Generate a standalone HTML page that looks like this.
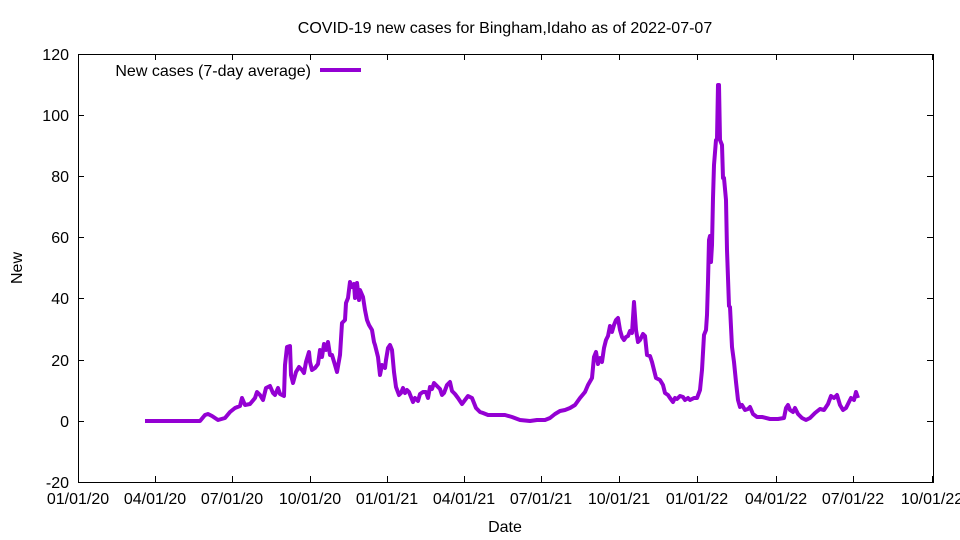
<!DOCTYPE html>
<html><head><meta charset="utf-8"><style>body{margin:0;background:#fff}svg{display:block;font-family:"Liberation Sans",sans-serif}</style></head><body>
<svg width="960" height="540" xmlns="http://www.w3.org/2000/svg">
<rect width="960" height="540" fill="#fff"/>
<text x="505" y="33" font-size="16" text-anchor="middle">COVID-19 new cases for Bingham,Idaho as of 2022-07-07</text>
<g stroke="#000" stroke-width="1" fill="none">
<rect x="78.5" y="54.5" width="855" height="428"/>
<path d="M78 54.5h6M933 54.5h-6M78 115.5h6M933 115.5h-6M78 176.5h6M933 176.5h-6M78 237.5h6M933 237.5h-6M78 298.5h6M933 298.5h-6M78 360.5h6M933 360.5h-6M78 421.5h6M933 421.5h-6M78 482.5h6M933 482.5h-6"/>
<path d="M78.5 482v-6M155.5 482v-6M232.5 482v-6M310.5 482v-6M387.5 482v-6M464.5 482v-6M541.5 482v-6M619.5 482v-6M697.5 482v-6M776.5 482v-6M853.5 482v-6M932.5 482v-6M78.5 54v6M155.5 54v6M232.5 54v6M310.5 54v6M387.5 54v6M464.5 54v6M541.5 54v6M619.5 54v6M697.5 54v6M776.5 54v6M853.5 54v6M932.5 54v6"/>
</g>
<g font-size="16" text-anchor="end">
<text x="69" y="60">120</text><text x="69" y="121">100</text><text x="69" y="182">80</text><text x="69" y="243">60</text><text x="69" y="304">40</text><text x="69" y="366">20</text><text x="69" y="427">0</text><text x="69" y="488">-20</text>
</g>
<g font-size="16" text-anchor="middle">
<text x="78" y="504">01/01/20</text><text x="155" y="504">04/01/20</text><text x="232" y="504">07/01/20</text><text x="310" y="504">10/01/20</text><text x="387" y="504">01/01/21</text><text x="464" y="504">04/01/21</text><text x="541" y="504">07/01/21</text><text x="619" y="504">10/01/21</text><text x="697" y="504">01/01/22</text><text x="776" y="504">04/01/22</text><text x="853" y="504">07/01/22</text><text x="932" y="504">10/01/22</text>
<text x="505" y="532">Date</text>
<text transform="translate(22,268) rotate(-90)">New</text>
</g>
<text x="311" y="76" font-size="16" text-anchor="end">New cases (7-day average)</text>
<path d="M320 70H361" stroke="#9400d3" stroke-width="4"/>
<polyline fill="none" stroke="#9400d3" stroke-width="4" stroke-linejoin="round" points="145,421 200,421 205,415 208,414 212,416 218,420 225,418 230,412 235,408 240,406 242,398 245,405 250,404 255,398 257,392 260,395 263,400 266,388 270,386 273,393 275,395 278,388 280,394 284,396 285,365 287,347 290,346 291,375 293,383 296,372 299,367 302,370 304,373 306,362 309,352 310,362 312,370 315,368 318,364 320,350 322,357 324,344 326,350 328,342 330,355 332,355 335,365 337,372 340,355 342,323 345,320 346,303 348,298 350,282 352,287 354,284 355,298 357,283 359,300 360,290 363,297 365,310 367,320 369,325 372,330 374,342 375,345 378,357 380,375 382,365 385,368 386,360 388,348 390,345 392,350 394,372 396,387 399,395 401,393 403,388 405,393 407,390 409,392 411,397 413,402 415,398 418,401 420,394 423,392 426,392 428,398 430,387 432,389 434,383 437,386 440,389 442,395 444,393 447,385 450,382 452,391 455,394 458,398 462,404 468,396 472,398 476,408 480,412 483,413 488,415 495,415 505,415 512,417 520,420 530,421 537,420 545,420 550,418 555,414 560,411 565,410 570,408 575,405 580,398 585,392 588,385 592,378 594,357 596,352 598,364 600,358 602,362 604,348 606,340 608,336 610,326 612,332 614,325 616,320 618,318 620,330 622,337 624,340 626,337 628,336 630,331 632,333 634,302 636,330 638,342 640,340 642,336 643,334 645,336 647,355 650,356 652,362 654,370 656,378 660,380 663,385 665,393 668,395 670,398 673,402 675,398 677,399 680,396 683,397 685,400 688,398 690,400 694,398 697,398 700,390 702,370 704,335 706,330 707,315 708,282 709,240 710,236 711,262 712,245 713,198 714,165 716,140 717,139 718,85 719,85 720,140 722,145 723,178 724,178 726,200 727,250 729,306 730,307 732,347 734,362 736,382 738,400 740,407 742,405 745,410 748,409 750,407 753,414 757,417 762,417 770,419 778,419 784,418 786,408 788,405 790,410 793,412 795,408 798,414 802,418 806,420 810,418 815,413 820,409 824,410 828,404 831,396 834,398 837,395 840,405 843,410 846,408 848,404 851,398 854,400 856,392 858,398"/>
</svg>
</body></html>
